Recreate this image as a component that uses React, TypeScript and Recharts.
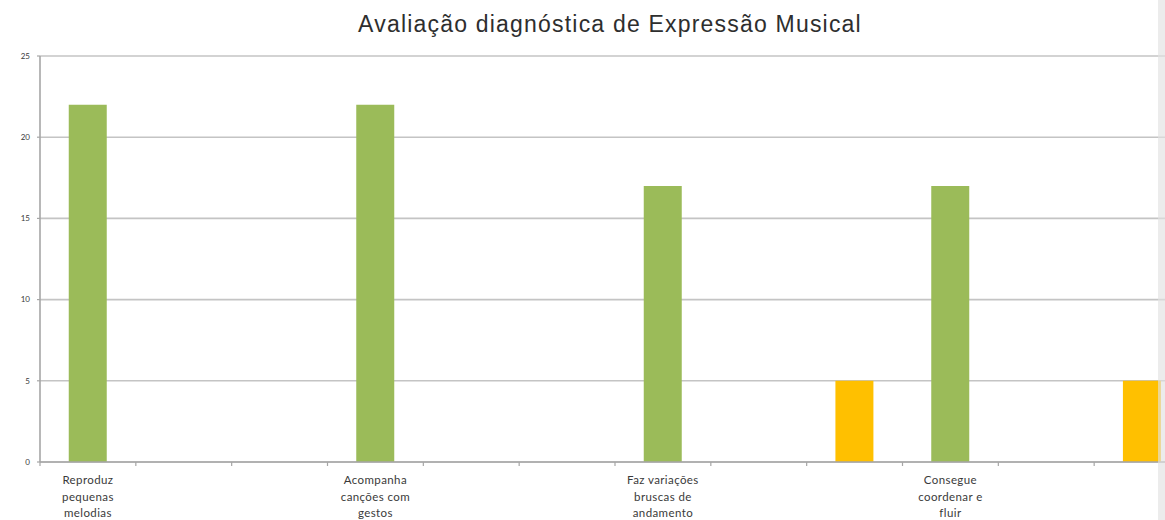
import React from 'react';
import { BarChart, Bar, XAxis, YAxis, CartesianGrid, Cell } from 'recharts';

// Each skill has three answer slots; only the first slot of each group carries a label.
const categories: string[] = [
  'Reproduz\npequenas\nmelodias', '', '',
  'Acompanha\ncanções com\ngestos', '', '',
  'Faz variações\nbruscas de\nandamento', '', '',
  'Consegue\ncoordenar e\nfluir', '', '',
];

const students: number[] = [22, 0, 0, 22, 0, 0, 17, 0, 5, 17, 0, 5];

// Slot within a group -> bar colour (first answer green, third answer amber)
const slotColors: string[] = ['#9BBB59', '#9BBB59', '#FFC000'];

const yTicks: number[] = [0, 5, 10, 15, 20, 25];

const TITLE = 'Avaliação diagnóstica de Expressão Musical';

const data = categories.map((label, i) => ({ label, value: students[i] }));

// Category tick: a short mark on the band's left edge plus the wrapped label below the band centre.
const CategoryTick = (props: any) => {
  const { x, y, payload, width, visibleTicksCount } = props;
  const half =
    typeof payload.offset === 'number' && payload.offset > 0
      ? payload.offset
      : width / visibleTicksCount / 2;
  const lines = String(payload.value).split('\n').filter((s) => s.length > 0);
  return (
    <g>
      <line x1={x - half} x2={x - half} y1={y} y2={y + 4} stroke="#a6a6a6" strokeWidth={1.2} />
      <text
        x={x}
        y={y}
        textAnchor="middle"
        fill="#3a3a3a"
        fontFamily="Lato, 'Liberation Sans', sans-serif"
        fontSize={11.5}
        letterSpacing={0.4}
      >
        {lines.map((line, i) => (
          <tspan key={i} x={x} dy={i === 0 ? 22 : 16.5}>
            {line}
          </tspan>
        ))}
      </text>
    </g>
  );
};

export default function App() {
  return (
    <div
      style={{
        position: 'absolute',
        left: 0,
        top: 0,
        width: 1165,
        height: 520,
        overflow: 'hidden',
        background: '#ffffff',
      }}
    >
      <div
        style={{
          position: 'absolute',
          left: 0,
          top: 11,
          width: 1220,
          textAlign: 'center',
          fontFamily: "'Liberation Sans', Arial, sans-serif",
          fontSize: 23,
          color: '#2e2e2e',
          whiteSpace: 'pre',
          letterSpacing: 1.2,
        }}
      >
        {TITLE}
      </div>
      <BarChart
        width={1200}
        height={520}
        data={data}
        margin={{ top: 56, right: 10, bottom: 0, left: 0 }}
        barCategoryGap="30%"
      >
        <CartesianGrid vertical={false} stroke="#c4c4c4" strokeWidth={1.6} />
        <XAxis
          dataKey="label"
          interval={0}
          tickLine={false}
          tickSize={0}
          tickMargin={0}
          axisLine={{ stroke: '#a6a6a6', strokeWidth: 1.6 }}
          tick={<CategoryTick />}
          height={58}
        />
        <YAxis
          domain={[0, 25]}
          ticks={yTicks}
          width={40}
          tickSize={3}
          tickMargin={7}
          axisLine={{ stroke: '#a6a6a6', strokeWidth: 1.6 }}
          tickLine={{ stroke: '#a6a6a6', strokeWidth: 1.2 }}
          tick={{ fill: '#3a3a3a', fontSize: 8, fontFamily: "Lato, 'Liberation Sans', sans-serif" }}
        />
        <Bar dataKey="value" isAnimationActive={false}>
          {data.map((_, i) => (
            <Cell key={i} fill={slotColors[i % 3]} />
          ))}
        </Bar>
      </BarChart>
      <div
        style={{
          position: 'absolute',
          left: 1158,
          top: 0,
          width: 7,
          height: 520,
          background: 'rgba(226,226,226,0.65)',
        }}
      />
    </div>
  );
}
